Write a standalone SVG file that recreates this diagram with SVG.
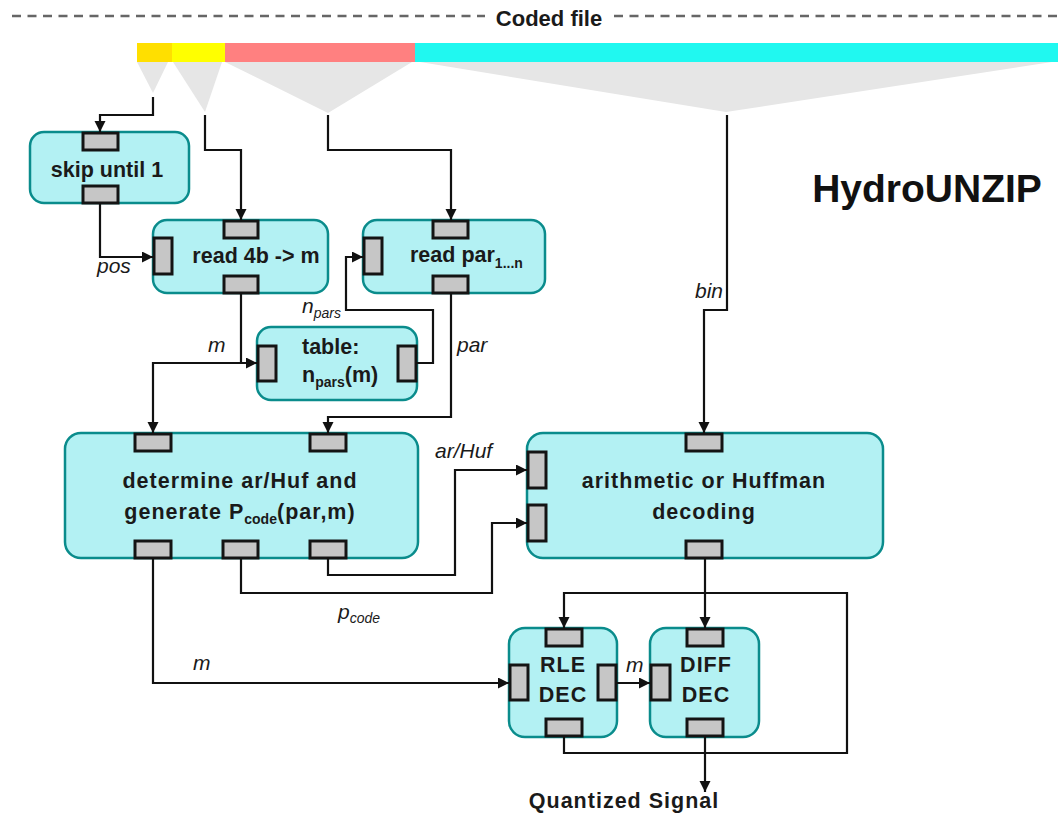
<svg xmlns="http://www.w3.org/2000/svg" width="1058" height="816" viewBox="0 0 1058 816">
<style>
.box{fill:#b3f1f3;stroke:#0a8c8c;stroke-width:2.5}
.port{fill:#c6c6c6;stroke:#141414;stroke-width:3}
.t{font-family:"Liberation Sans",Arial,sans-serif;font-size:21.5px;font-weight:bold;fill:#1a1a1a;text-anchor:middle}
.w{letter-spacing:1px}
.lbl{font-family:"Liberation Sans",Arial,sans-serif;font-size:21px;font-style:italic;fill:#1a1a1a}
.sub{font-size:14px;letter-spacing:0}
.wire{fill:none;stroke:#111;stroke-width:2.2}
.tri{fill:#e6e6e6}
</style>
<defs>
<marker id="ah" markerUnits="userSpaceOnUse" markerWidth="12" markerHeight="12" refX="11" refY="5.5" orient="auto">
<path d="M0,0 L11,5.5 L0,11 z" fill="#111"/>
</marker>
</defs>
<rect width="1058" height="816" fill="#fff"/>
<g id="header">
<line x1="12" y1="16" x2="485" y2="16" stroke="#666" stroke-width="2.5" stroke-dasharray="9 6.5"/>
<line x1="614" y1="16" x2="1058" y2="16" stroke="#666" stroke-width="2.5" stroke-dasharray="9 6.5"/>
<text x="549" y="26" class="t" style="font-size:22px">Coded file</text>
<polygon class="tri" points="137,62 168,62 153,93"/>
<polygon class="tri" points="173,62 222,62 205,112"/>
<polygon class="tri" points="225,62 412,62 328,113"/>
<polygon class="tri" points="420,62 1052,62 726,112"/>
<rect x="137" y="43" width="35" height="19" fill="#ffdf00"/>
<rect x="172" y="43" width="53" height="19" fill="#ffff00"/>
<rect x="225" y="43" width="190" height="19" fill="#ff8080"/>
<rect x="415" y="43" width="643" height="19" fill="#20f8f0"/>
<text x="927" y="202" class="t" style="font-size:39px;fill:#111">HydroUNZIP</text>
</g>
<g id="skip">
<rect class="box" x="30" y="132" width="159" height="71" rx="14"/>
<rect class="port" x="83" y="133" width="35" height="17"/>
<rect class="port" x="83" y="186" width="35" height="17"/>
<text x="107" y="177" class="t">skip until 1</text>
</g>
<g id="read4b">
<rect class="box" x="153" y="220" width="175" height="73" rx="14"/>
<rect class="port" x="224" y="221" width="34" height="17"/>
<rect class="port" x="154" y="238" width="18" height="36"/>
<rect class="port" x="224" y="276" width="34" height="17"/>
<text x="256" y="263" class="t">read 4b -&gt; m</text>
</g>
<g id="readpar">
<rect class="box" x="363" y="220" width="182" height="73" rx="14"/>
<rect class="port" x="433" y="221" width="35" height="17"/>
<rect class="port" x="364" y="238" width="18" height="36"/>
<rect class="port" x="433" y="276" width="35" height="17"/>
<text x="410" y="262" class="t" style="text-anchor:start">read par<tspan class="sub" dy="6">1...n</tspan></text>
</g>
<g id="table">
<rect class="box" x="257" y="327" width="160" height="73" rx="14"/>
<rect class="port" x="258" y="346" width="18" height="35"/>
<rect class="port" x="398" y="346" width="18" height="35"/>
<text x="302" y="354" class="t" style="text-anchor:start">table:</text>
<text x="302" y="382" class="t" style="text-anchor:start">n<tspan class="sub" dy="5">pars</tspan><tspan dy="-5">(m)</tspan></text>
</g>
<g id="determine">
<rect class="box" x="65" y="433" width="353" height="125" rx="16"/>
<rect class="port" x="135" y="434" width="36" height="17"/>
<rect class="port" x="310" y="434" width="36" height="17"/>
<rect class="port" x="135" y="541" width="36" height="17"/>
<rect class="port" x="223" y="541" width="35" height="17"/>
<rect class="port" x="310" y="541" width="36" height="17"/>
<text x="240" y="488" class="t w">determine ar/Huf and</text>
<text x="240" y="519" class="t w">generate P<tspan class="sub" dy="5">code</tspan><tspan dy="-5" style="letter-spacing:1px">(par,m)</tspan></text>
</g>
<g id="decoder">
<rect class="box" x="527" y="433" width="356" height="125" rx="16"/>
<rect class="port" x="686" y="434" width="36" height="17"/>
<rect class="port" x="528" y="452" width="18" height="36"/>
<rect class="port" x="528" y="505" width="18" height="36"/>
<rect class="port" x="686" y="541" width="36" height="17"/>
<text x="704" y="488" class="t w">arithmetic or Huffman</text>
<text x="704" y="519" class="t w">decoding</text>
</g>
<g id="rle">
<rect class="box" x="509" y="628" width="108" height="109" rx="16"/>
<rect class="port" x="546" y="629" width="36" height="17"/>
<rect class="port" x="510" y="665" width="18" height="35"/>
<rect class="port" x="598" y="665" width="18" height="35"/>
<rect class="port" x="546" y="719" width="36" height="17"/>
<text x="563" y="672" class="t w">RLE</text>
<text x="563" y="702" class="t w">DEC</text>
</g>
<g id="diff">
<rect class="box" x="650" y="628" width="109" height="109" rx="16"/>
<rect class="port" x="687" y="629" width="36" height="17"/>
<rect class="port" x="651" y="665" width="19" height="35"/>
<rect class="port" x="687" y="719" width="36" height="17"/>
<text x="706" y="672" class="t w">DIFF</text>
<text x="706" y="702" class="t w">DEC</text>
</g>
<g id="connectors">
<path class="wire" d="M153,97 V115 H100 V132" marker-end="url(#ah)"/>
<path class="wire" d="M205,115 V150 H241 V220" marker-end="url(#ah)"/>
<path class="wire" d="M328,115 V150 H451 V220" marker-end="url(#ah)"/>
<path class="wire" d="M727,115 V310 H704 V433" marker-end="url(#ah)"/>
<path class="wire" d="M100,203 V257 H153" marker-end="url(#ah)"/>
<path class="wire" d="M241,293 V363 H257" marker-end="url(#ah)"/>
<path class="wire" d="M241,363 H153 V433" marker-end="url(#ah)"/>
<path class="wire" d="M416,363 H433 V310 H346 V257 H363" marker-end="url(#ah)"/>
<path class="wire" d="M451,293 V417 H328 V433" marker-end="url(#ah)"/>
<path class="wire" d="M328,558 V575 H455 V470 H527" marker-end="url(#ah)"/>
<path class="wire" d="M241,558 V593 H492 V523 H527" marker-end="url(#ah)"/>
<path class="wire" d="M153,558 V683 H509" marker-end="url(#ah)"/>
<path class="wire" d="M705,558 V628" marker-end="url(#ah)"/>
<path class="wire" d="M564,737 V753 H847 V593 H564 V628" marker-end="url(#ah)"/>
<path class="wire" d="M617,683 H650" marker-end="url(#ah)"/>
<path class="wire" d="M705,737 V792" marker-end="url(#ah)"/>
</g>
<g id="labels">
<text x="97" y="273" class="lbl">pos</text>
<text x="208" y="352" class="lbl">m</text>
<text x="302" y="313" class="lbl">n<tspan class="sub" dy="5">pars</tspan></text>
<text x="457" y="352" class="lbl">par</text>
<text x="695" y="298" class="lbl">bin</text>
<text x="435" y="458" class="lbl">ar/Huf</text>
<text x="338" y="619" class="lbl">p<tspan class="sub" dy="4">code</tspan></text>
<text x="193" y="670" class="lbl">m</text>
<text x="626" y="672" class="lbl">m</text>
<text x="624" y="808" class="t w">Quantized Signal</text>
</g>
</svg>
